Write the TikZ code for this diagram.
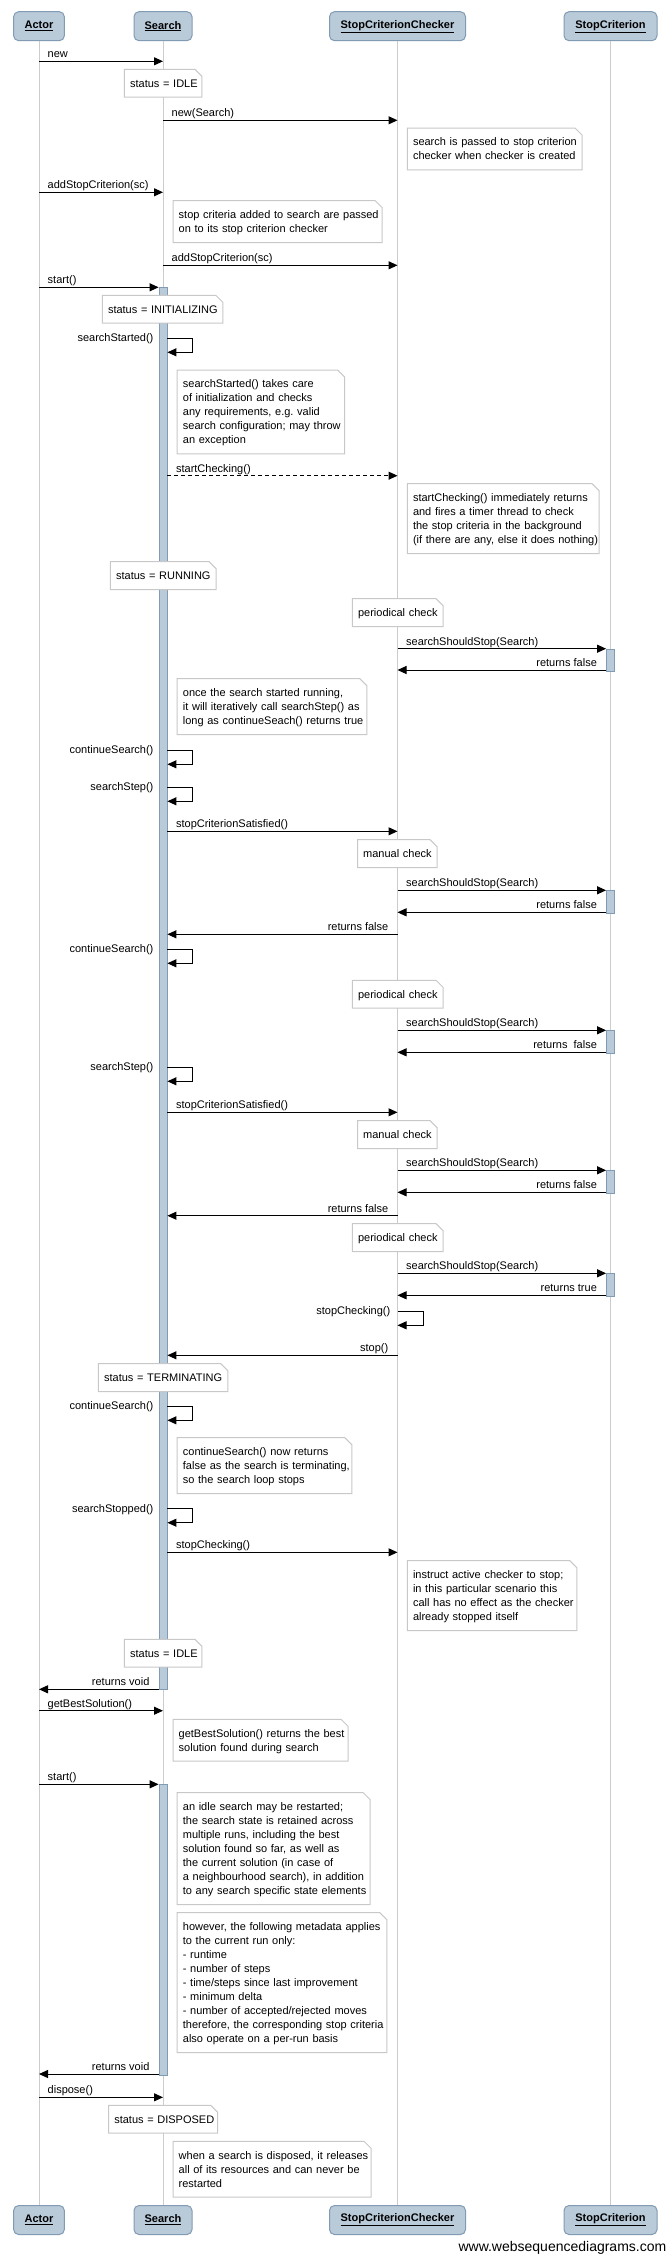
\documentclass[tikz,border=0pt]{standalone}
\usepackage{fontspec}
\setmainfont{Liberation Sans}
\usetikzlibrary{arrows.meta}
\frenchspacing
\definecolor{pfill}{RGB}{185,202,217}
\definecolor{pdraw}{RGB}{130,155,180}
\definecolor{lifec}{RGB}{204,204,204}
\definecolor{notec}{RGB}{200,200,200}
\tikzset{
  participant/.style={draw=pdraw, fill=pfill, rounded corners=5pt, line width=1pt, minimum height=29pt, inner sep=0pt, font=\fontsize{11}{14}\selectfont\bfseries},
  life/.style={draw=lifec, line width=1pt},
  actbar/.style={draw=pdraw, fill=pfill, line width=0.8pt, minimum width=8pt, inner sep=0pt, anchor=north},
  msg/.style={draw=black, line width=1pt, -{Triangle[length=9pt,width=8pt]}},
  dmsg/.style={msg, dash pattern=on 4pt off 3pt},
  lbl/.style={font=\fontsize{11}{14}\selectfont, inner sep=0pt},
  sdnotestyle/.style={fill=white, inner xsep=5.5pt, inner ysep=0pt, align=left, font=\fontsize{11}{14}\selectfont\frenchspacing, anchor=north west},
  notebd/.style={draw=notec, line width=1pt},
}
% name, x, top, textwidth, lines
\newcommand\sdnote[5]{%
  \node[sdnotestyle, text width=#4pt] (#1) at (#2,#3) {\rule{0pt}{17.5pt}#5\rule[-10pt]{0pt}{10pt}};
  \draw[notebd] (#1.south west) -- (#1.north west) -- ([xshift=-7pt]#1.north east) -- ([yshift=-7pt]#1.north east) -- (#1.south east) -- cycle;
}
% name, from, to, y, label  (left to right)
\newcommand\msgLR[5]{%
  \draw[msg] (#2 |- 0,#4) -- (#3 |- 0,#4);
  \node[lbl, anchor=base west, xshift=8.5pt, yshift=3.5pt] (#1) at (#2 |- 0,#4) {#5};
}
% name, from, to, y, label  (right to left)
\newcommand\msgRL[5]{%
  \draw[msg] (#2 |- 0,#4) -- (#3 |- 0,#4);
  \node[lbl, anchor=base east, xshift=-9pt, yshift=3.5pt] (#1) at (#2 |- 0,#4) {#5};
}
% name, bar, y1, y2, label (self message on Search bar)
\newcommand\selfmsg[5]{%
  \draw[msg] (#2.east |- 0,#3) -- ++(25.5,0) |- (#2.east |- 0,#4);
  \node[lbl, anchor=base east, xshift=-5pt, yshift=-3.5pt] (#1) at (#2.west |- 0,#3) {#5};
}
\begin{document}
\begin{tikzpicture}[x=1pt,y=-1pt]
\useasboundingbox (0,0) rectangle (668,2257);
\fill[white] (0,0) rectangle (668,2257);

% participants
\node[participant, minimum width=50.7pt] (hA) at (39,26.2) {\underline{Actor}};
\node[participant, minimum width=58pt] (hS) at (163,26.2) {\underline{Search}};
\node[participant, minimum width=136pt] (hC) at (397.5,26.2) {\underline{StopCriterionChecker}};
\node[participant, minimum width=93pt] (hK) at (610.5,26.2) {\underline{StopCriterion}};
\node[participant, minimum width=50.7pt] (fA) at (39,2220) {\underline{Actor}};
\node[participant, minimum width=58pt] (fS) at (163,2220) {\underline{Search}};
\node[participant, minimum width=136pt] (fC) at (397.5,2220) {\underline{StopCriterionChecker}};
\node[participant, minimum width=93pt] (fK) at (610.5,2220) {\underline{StopCriterion}};

% lifelines
\draw[life] (hA) -- (fA);
\draw[life] (hS) -- (fS);
\draw[life] (hC) -- (fC);
\draw[life] (hK) -- (fK);

% activation bars
\node[actbar, minimum height=1402pt] (bar1) at (163,287.3) {};
\node[actbar, minimum height=290.7pt] (bar2) at (163,1784.3) {};
\node[actbar, minimum height=22.5pt] (k1) at (610.5,648.7) {};
\node[actbar, minimum height=22.5pt] (k2) at (610.5,890.3) {};
\node[actbar, minimum height=22.5pt] (k3) at (610.5,1030.3) {};
\node[actbar, minimum height=22.5pt] (k4) at (610.5,1170.3) {};
\node[actbar, minimum height=22.5pt] (k5) at (610.5,1273.3) {};

% messages
\msgLR{m1}{hA}{hS}{61.3}{new}
\msgLR{m2}{hS}{hC}{120.3}{new(Search)}
\msgLR{m3}{hA}{hS}{192.3}{addStopCriterion(sc)}
\msgLR{m4}{hS}{hC}{265.3}{addStopCriterion(sc)}
\msgLR{m5}{hA}{bar1.west}{287.3}{start()}
\selfmsg{m6}{bar1}{338.3}{352.3}{searchStarted()}
\draw[dmsg] (bar1.east |- 0,475.7) -- (hC |- 0,475.7);
\node[lbl, anchor=base west, xshift=8.5pt, yshift=3.5pt] (m7) at (bar1.east |- 0,475.7) {startChecking()};
\msgLR{m8}{hC}{k1.west}{648.7}{searchShouldStop(Search)}
\msgRL{m9}{k1.west}{hC}{670}{returns false}
\selfmsg{m10}{bar1}{750.3}{764.3}{continueSearch()}
\selfmsg{m11}{bar1}{787.3}{801.3}{searchStep()}
\msgLR{m12}{bar1.east}{hC}{831.3}{stopCriterionSatisfied()}
\msgLR{m13}{hC}{k2.west}{890.3}{searchShouldStop(Search)}
\msgRL{m14}{k2.west}{hC}{912.3}{returns false}
\msgRL{m15}{hC}{bar1.east}{934.3}{returns false}
\selfmsg{m16}{bar1}{949.3}{963.3}{continueSearch()}
\msgLR{m17}{hC}{k3.west}{1030.3}{searchShouldStop(Search)}
\msgRL{m18}{k3.west}{hC}{1052.3}{returns\ \ false}
\selfmsg{m19}{bar1}{1067.3}{1081.3}{searchStep()}
\msgLR{m20}{bar1.east}{hC}{1112.3}{stopCriterionSatisfied()}
\msgLR{m21}{hC}{k4.west}{1170.3}{searchShouldStop(Search)}
\msgRL{m22}{k4.west}{hC}{1192.3}{returns false}
\msgRL{m23}{hC}{bar1.east}{1215.7}{returns false}
\msgLR{m24}{hC}{k5.west}{1273.3}{searchShouldStop(Search)}
\msgRL{m25}{k5.west}{hC}{1295.3}{returns true}
\draw[msg] (hC |- 0,1311.3) -- ++(25.5,0) |- (hC |- 0,1325.3);
\node[lbl, anchor=base east, xshift=-7pt, yshift=-3.5pt] (m26) at (hC |- 0,1311.3) {stopChecking()};
\msgRL{m27}{hC}{bar1.east}{1355.3}{stop()}
\selfmsg{m28}{bar1}{1406.3}{1420.3}{continueSearch()}
\selfmsg{m29}{bar1}{1508.7}{1522.7}{searchStopped()}
\msgLR{m30}{bar1.east}{hC}{1552.3}{stopChecking()}
\msgRL{m31}{bar1.west}{hA}{1689.3}{returns void}
\msgLR{m32}{hA}{hS}{1710.7}{getBestSolution()}
\msgLR{m33}{hA}{bar2.west}{1784.3}{start()}
\msgRL{m34}{bar2.west}{hA}{2074}{returns void}
\msgLR{m35}{hA}{hS}{2097.3}{dispose()}

% notes
\sdnote{nIdleA}{124.4}{69.3}{66.1}{\mbox{status = IDLE}}
\sdnote{nPass}{407.3}{128}{163.3}{\mbox{search is passed to stop criterion}\\\mbox{checker when checker is created}}
\sdnote{nCrit}{173}{200.7}{197.8}{\mbox{stop criteria added to search are passed}\\\mbox{on to its stop criterion checker}}
\sdnote{nInit}{102.3}{295.3}{109.1}{\mbox{status = INITIALIZING}}
\sdnote{nStarted}{177.2}{370}{156.1}{\mbox{searchStarted() takes care}\\\mbox{of initialization and checks}\\\mbox{any requirements, e.g.\ valid}\\\mbox{search configuration; may throw}\\\mbox{an exception}}
\sdnote{nStartChk}{407.3}{483.7}{180.3}{\mbox{startChecking() immediately returns}\\\mbox{and fires a timer thread to check}\\\mbox{the stop criteria in the background}\\\mbox{(if there are any, else it does nothing)}}
\sdnote{nRunning}{110.4}{561.7}{94.2}{\mbox{status = RUNNING}}
\sdnote{nPerA}{352.4}{598.7}{79.3}{\mbox{periodical check}}
\sdnote{nOnce}{177.2}{678.7}{178.2}{\mbox{once the search started running,}\\\mbox{it will iteratively call searchStep() as}\\\mbox{long as continueSeach() returns true}}
\sdnote{nManA}{357.5}{839.7}{68.2}{\mbox{manual check}}
\sdnote{nPerB}{352.4}{980.3}{79.3}{\mbox{periodical check}}
\sdnote{nManB}{357.5}{1120.7}{68.2}{\mbox{manual check}}
\sdnote{nPerC}{352.4}{1223.7}{79.3}{\mbox{periodical check}}
\sdnote{nTerm}{98.4}{1363.7}{118.1}{\mbox{status = TERMINATING}}
\sdnote{nCont}{177.2}{1437.7}{163.3}{\mbox{continueSearch() now returns}\\\mbox{false as the search is terminating,}\\\mbox{so the search loop stops}}
\sdnote{nInstr}{407.3}{1560.7}{158.2}{\mbox{instruct active checker to stop;}\\\mbox{in this particular scenario this}\\\mbox{call has no effect as the checker}\\\mbox{already stopped itself}}
\sdnote{nIdleB}{124.4}{1639.3}{66.1}{\mbox{status = IDLE}}
\sdnote{nBest}{173}{1719.3}{163.7}{\mbox{getBestSolution() returns the best}\\\mbox{solution found during search}}
\sdnote{nRestart}{177.2}{1792.7}{181.6}{\mbox{an idle search may be restarted;}\\\mbox{the search state is retained across}\\\mbox{multiple runs, including the best}\\\mbox{solution found so far, as well as}\\\mbox{the current solution (in case of}\\\mbox{a neighbourhood search), in addition}\\\mbox{to any search specific state elements}}
\sdnote{nMeta}{177.2}{1912.7}{198.3}{\mbox{however, the following metadata applies}\\\mbox{to the current run only:}\\\mbox{- runtime}\\\mbox{- number of steps}\\\mbox{- time/steps since last improvement}\\\mbox{- minimum delta}\\\mbox{- number of accepted/rejected moves}\\\mbox{therefore, the corresponding stop criteria}\\\mbox{also operate on a per-run basis}}
\sdnote{nDisp}{108.6}{2105.3}{97.7}{\mbox{status = DISPOSED}}
\sdnote{nRel}{173}{2141.3}{186.7}{\mbox{when a search is disposed, it releases}\\\mbox{all of its resources and can never be}\\\mbox{restarted}}

% watermark
\node[font=\fontsize{14}{16}\selectfont, anchor=base east, inner sep=0pt] (wm) at (666.5,2251.5) {www.websequencediagrams.com};
\end{tikzpicture}
\end{document}
